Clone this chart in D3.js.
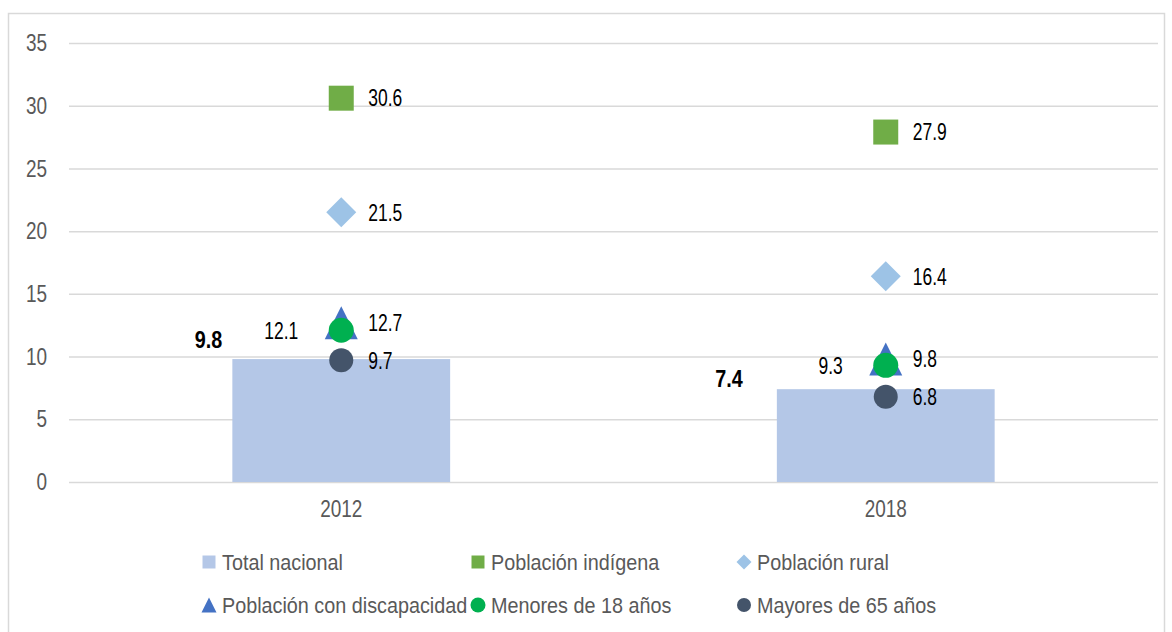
<!DOCTYPE html>
<html>
<head>
<meta charset="utf-8">
<script src="https://cdn.jsdelivr.net/npm/d3@7"></script>
<style>
  body { margin: 0; background: #fff; }
  text { font-family: "Liberation Sans", Arial, sans-serif; }
</style>
</head>
<body>
<svg width="1172" height="632"></svg>
<script>
// datos
var years = ["2012", "2018"];
var totalNacional = [9.8, 7.4];
var indigena = [30.6, 27.9];
var rural = [21.5, 16.4];
var discapacidad = [12.7, 9.8];
var menores18 = [12.1, 9.3];
var mayores65 = [9.7, 6.8];
var yTicks = [0, 5, 10, 15, 20, 25, 30, 35];
var legendLabels = ["Total nacional", "Población indígena", "Población rural",
                    "Población con discapacidad", "Menores de 18 años", "Mayores de 65 años"];

var svg = d3.select("svg"),
    margin = {top: 43, right: 14, bottom: 150, left: 69},
    width = 1158 - margin.left,
    height = 482 - margin.top;

// letra estrecha tipo Arial Narrow
function narrow(sel, k, origin) {
  sel.style("transform-box", "fill-box")
     .style("transform-origin", origin + " center")
     .style("transform", "scaleX(" + k + ")");
}

// marco del grafico
svg.append("rect")
    .attr("x", 8.5).attr("y", 13.5)
    .attr("width", 1156).attr("height", 640)
    .attr("fill", "none").attr("stroke", "#d9d9d9").attr("stroke-width", 1.5);

var x = d3.scaleBand().domain(years).range([0, width]).padding(0),
    y = d3.scaleLinear().domain([0, 35]).range([height, 0]);

var g = svg.append("g")
    .attr("transform", "translate(" + margin.left + "," + margin.top + ")");

// lineas de la cuadricula
g.append("g")
    .call(d3.axisLeft(y).tickValues(yTicks).tickSize(-width).tickPadding(22))
    .call(function(a) {
      a.select(".domain").remove();
      a.selectAll(".tick line").attr("stroke", "#d9d9d9").attr("stroke-width", 1.5);
      a.selectAll(".tick text").attr("fill", "#595959").attr("font-size", 24)
        .call(narrow, 0.79, "right");
    });

g.append("g")
    .attr("transform", "translate(0," + height + ")")
    .call(d3.axisBottom(x).tickSize(0).tickPadding(18))
    .call(function(a) {
      a.select(".domain").remove();
      a.selectAll(".tick text").attr("fill", "#595959").attr("font-size", 24)
        .call(narrow, 0.79, "center");
    });

// barras total nacional
var barW = x.bandwidth() * 0.4;
var cx = function(i) { return x(years[i]) + x.bandwidth() / 2; };

g.selectAll(".bar")
  .data(totalNacional)
  .enter().append("rect")
    .attr("class", "bar")
    .attr("x", function(d, i) { return cx(i) - barW / 2; })
    .attr("y", function(d) { return y(d); })
    .attr("width", barW)
    .attr("height", function(d) { return height - y(d); })
    .attr("fill", "#b4c7e7");

var barLabelDx = [-10, -34], barLabelDy = [-11, -2];
g.selectAll(".barlabel")
  .data(totalNacional)
  .enter().append("text")
    .attr("x", function(d, i) { return cx(i) - barW / 2 + barLabelDx[i]; })
    .attr("y", function(d, i) { return y(d) + barLabelDy[i]; })
    .attr("text-anchor", "end")
    .attr("font-size", 23).attr("font-weight", "bold")
    .text(function(d) { return d.toFixed(1); })
    .call(narrow, 0.86, "right");

// formas de los marcadores
function markerPath(shape, s) {
  var h = s / 2;
  if (shape === "square") return "M" + -h + "," + -h + "h" + s + "v" + s + "h" + -s + "Z";
  if (shape === "diamond") return "M0," + -h + "L" + h + ",0L0," + h + "L" + -h + ",0Z";
  if (shape === "triangle") return "M0," + -h + "L" + h + "," + h + "L" + -h + "," + h + "Z";
  return d3.arc()({innerRadius: 0, outerRadius: h, startAngle: 0, endAngle: 2 * Math.PI});
}

var series = [
  {values: indigena, shape: "square", color: "#70ad47", size: 25, side: "right"},
  {values: rural, shape: "diamond", color: "#9dc3e6", size: 30, side: "right"},
  {values: discapacidad, shape: "triangle", color: "#4472c4", size: 33, side: "right"},
  {values: menores18, shape: "circle", color: "#00b050", size: 25, side: "left"},
  {values: mayores65, shape: "circle", color: "#44546a", size: 24, side: "right"}
];

series.forEach(function(s) {
  g.selectAll(null)
    .data(s.values)
    .enter().append("path")
      .attr("transform", function(d, i) { return "translate(" + cx(i) + "," + y(d) + ")"; })
      .attr("d", markerPath(s.shape, s.size))
      .attr("fill", s.color);

  g.selectAll(null)
    .data(s.values)
    .enter().append("text")
      .attr("x", function(d, i) { return s.side === "right" ? cx(i) + 27 : cx(i) - 43; })
      .attr("y", function(d) { return y(d); })
      .attr("dy", "0.36em")
      .attr("text-anchor", s.side === "right" ? "start" : "end")
      .attr("font-size", 23)
      .attr("fill", "#000")
      .text(function(d) { return d.toFixed(1); })
      .call(narrow, 0.76, s.side === "right" ? "left" : "right");
});

// leyenda
var legendItems = [
  {shape: "square", color: "#b4c7e7", size: 13},
  {shape: "square", color: "#70ad47", size: 13},
  {shape: "diamond", color: "#9dc3e6", size: 15},
  {shape: "triangle", color: "#4472c4", size: 15},
  {shape: "circle", color: "#00b050", size: 15},
  {shape: "circle", color: "#44546a", size: 14}
];
var legendCols = [209, 478, 744], legendRows = [562, 605];

var legend = svg.append("g");
legendItems.forEach(function(item, i) {
  var lx = legendCols[i % 3], ly = legendRows[Math.floor(i / 3)];
  legend.append("path")
      .attr("transform", "translate(" + lx + "," + ly + ")")
      .attr("d", markerPath(item.shape, item.size))
      .attr("fill", item.color);
  legend.append("text")
      .attr("x", lx + 13).attr("y", ly).attr("dy", "0.36em")
      .attr("font-size", 22).attr("fill", "#595959")
      .text(legendLabels[i])
      .call(narrow, 0.9, "left");
});
</script>
</body>
</html>
